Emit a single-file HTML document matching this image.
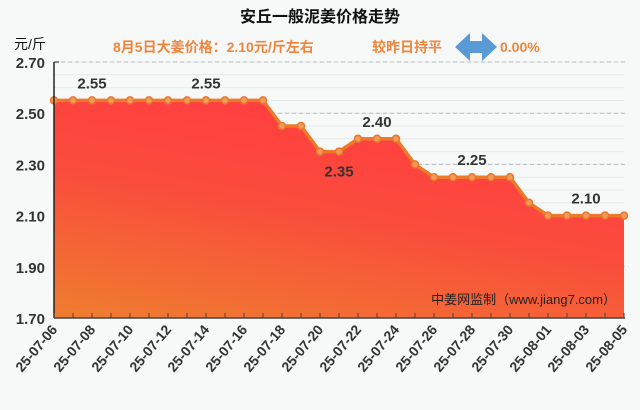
<!DOCTYPE html>
<html><head><meta charset="utf-8"><style>
body{margin:0;background:#f7f9f9;}
svg{display:block;font-family:"Liberation Sans","Noto Sans CJK SC",sans-serif;}
</style></head><body>
<svg id="c" width="640" height="410">
<defs>
<linearGradient id="g" x1="0.1" y1="1" x2="0.5" y2="0.1">
<stop offset="0" stop-color="#ef7a30"/><stop offset="0.6" stop-color="#fa4c3c"/><stop offset="1" stop-color="#ff4040"/>
</linearGradient>
</defs>
<rect width="640" height="410" fill="#f7f9f9"/>
<text x="320" y="22" text-anchor="middle" font-size="16" font-weight="bold" fill="#111">安丘一般泥姜价格走势</text>
<text x="14" y="49" font-size="14" fill="#111">元/斤</text>
<text x="113" y="52" font-size="14" font-weight="bold" fill="#f0843a">8月5日大姜价格：2.10元/斤左右</text>
<text x="372" y="52" font-size="14" font-weight="bold" fill="#f0843a">较昨日持平</text>
<polygon points="455,47 470,33 470,41 482,41 482,33 497,47 482,61 482,53 470,53 470,61" fill="#5b9bd5"/>
<text x="500" y="52" font-size="14" font-weight="bold" fill="#f0843a">0.00%</text>
<g id="plot"></g>
</svg>
<script>
const dates=["25-07-06","25-07-07","25-07-08","25-07-09","25-07-10","25-07-11","25-07-12","25-07-13","25-07-14","25-07-15","25-07-16","25-07-17","25-07-18","25-07-19","25-07-20","25-07-21","25-07-22","25-07-23","25-07-24","25-07-25","25-07-26","25-07-27","25-07-28","25-07-29","25-07-30","25-07-31","25-08-01","25-08-02","25-08-03","25-08-04","25-08-05"];
const prices=[2.55,2.55,2.55,2.55,2.55,2.55,2.55,2.55,2.55,2.55,2.55,2.55,2.45,2.45,2.35,2.35,2.40,2.40,2.40,2.30,2.25,2.25,2.25,2.25,2.25,2.15,2.10,2.10,2.10,2.10,2.10];
const yTicks=[1.70,1.90,2.10,2.30,2.50,2.70];
const annotations=[{i:2,v:"2.55",above:true},{i:8,v:"2.55",above:true},{i:15,v:"2.35",above:false},{i:17,v:"2.40",above:true},{i:22,v:"2.25",above:true},{i:28,v:"2.10",above:true}];
const X0=54,X1=624,Y0=318,Y1=62,vmin=1.7,vmax=2.7;
const xs=i=>X0+i*(X1-X0)/(dates.length-1);
const ys=v=>Y0-(v-vmin)/(vmax-vmin)*(Y0-Y1);
const NS="http://www.w3.org/2000/svg",g=document.getElementById('plot');
function mk(t,a){const e=document.createElementNS(NS,t);for(const k in a)e.setAttribute(k,a[k]);g.appendChild(e);return e;}
for(let v=1.75;v<2.7;v+=0.05){const l=mk('line',{x1:X0,x2:X1,y1:ys(v),y2:ys(v),stroke:'#e6e9ea','stroke-width':1});

}
yTicks.forEach(v=>{const l=mk('line',{x1:X0,x2:X1+4,y1:ys(v),y2:ys(v),stroke:'#bbb','stroke-dasharray':'4,3'});


const tk=mk('line',{x1:X0,x2:X0+5,y1:ys(v),y2:ys(v),stroke:'#222'});


const t=mk('text',{x:X0-9,y:ys(v)+6,'text-anchor':'end','font-size':15,'font-weight':'bold',fill:'#333'});t.textContent=v.toFixed(2);

});
let d='M'+xs(0)+','+Y0;prices.forEach((p,i)=>d+=' L'+xs(i)+','+ys(p));d+=' L'+xs(prices.length-1)+','+Y0+' Z';
const area=mk('path',{d:d,fill:'url(#g)'});


const wm=mk('text',{x:X1-8,y:Y0-14,'text-anchor':'end','font-size':13,fill:'#222'});wm.textContent='中姜网监制（www.jiang7.com）';


const line=mk('polyline',{points:prices.map((p,i)=>xs(i)+','+ys(p)).join(' '),fill:'none',stroke:'#ec7a2a','stroke-width':3.5,'stroke-linejoin':'round'});


prices.forEach((p,i)=>{const c=mk('circle',{cx:xs(i),cy:ys(p),r:3.5,fill:'#f29a5a',stroke:'#e8772a','stroke-width':1.5});

});
annotations.forEach(a=>{const t=mk('text',{x:xs(a.i),y:a.above?ys(prices[a.i])-12:ys(prices[a.i])+25,'text-anchor':'middle','font-size':15,'font-weight':'bold',fill:'#333'});t.textContent=a.v;

});
const ax=mk('line',{x1:X0,x2:X0,y1:Y1,y2:Y0,stroke:'#222','stroke-width':1.5});


const bx=mk('line',{x1:X0,x2:X1+1,y1:Y0,y2:Y0,stroke:'#444','stroke-width':1.5});


dates.forEach((dt,i)=>{const tk=mk('line',{x1:xs(i),x2:xs(i),y1:Y0,y2:Y0-5,stroke:'#444'});


if(i%2===0){const x=xs(i)+4,y=Y0+12;const t=mk('text',{x:x,y:y,'text-anchor':'end','font-size':14,'font-weight':'bold',fill:'#333',transform:'rotate(-50 '+x+' '+y+')'});t.textContent=dt;

}});
</script>
</body></html>
